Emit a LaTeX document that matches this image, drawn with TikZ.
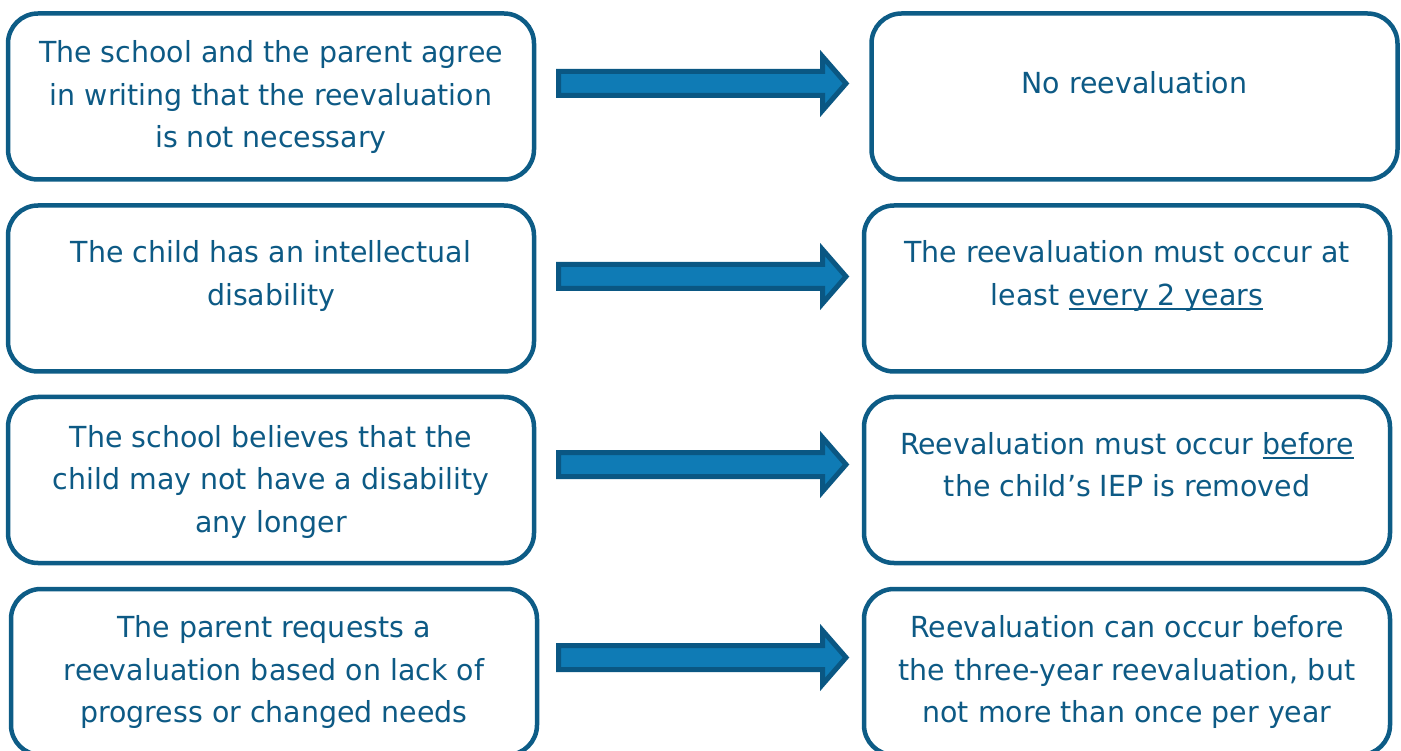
\documentclass[tikz,border=0pt]{standalone}
\usepackage{fontspec}
\setmainfont{DejaVu Sans}[FakeStretch=0.98]
\usetikzlibrary{calc}
\definecolor{edgeblue}{HTML}{0D5C86}
\definecolor{inkblue}{HTML}{0D5A85}
\definecolor{arrowfill}{HTML}{0F7BB5}
\definecolor{arrowedge}{HTML}{0A5783}
% underline that sits a little below the baseline
\newcommand{\undl}[1]{\setbox0=\hbox{#1}\rlap{\rule[-4.5pt]{\wd0}{1.9pt}}\box0}
% wide block arrow from a start point to a tip point
\newcommand{\blockarrow}[2]{%
  \draw[flowarrow] ($(#1)+(0,-12)$) -- ($(#2)+(-23.5,-12)$) -- ($(#2)+(-23.5,-27)$)
    -- (#2) -- ($(#2)+(-23.5,27)$) -- ($(#2)+(-23.5,12)$) -- ($(#1)+(0,12)$) -- cycle;}
\begin{document}
\begin{tikzpicture}[x=1pt,y=-1pt,
  card/.style={draw=edgeblue, line width=4.5pt, rounded corners=30pt, fill=white,
    minimum width=526pt, minimum height=166pt, inner sep=0pt},
  txt/.style={text=inkblue, align=center, inner sep=0pt,
    font=\fontsize{29}{42.5}\selectfont},
  flowarrow/.style={draw=arrowedge, fill=arrowfill, line width=5pt, line join=miter}]
\useasboundingbox (0,0) rectangle (1401,751);

% condition boxes (left) and outcome boxes (right)
\node[card] (L1) at (271,96.5) {};
\node[card] (L2) at (271,288.5) {};
\node[card] (L3) at (271,480) {};
\node[card] (L4) at (274,672) {};
\node[card] (R1) at (1134.5,96.5) {};
\node[card] (R2) at (1127,288.5) {};
\node[card] (R3) at (1127,480) {};
\node[card] (R4) at (1127,672) {};

% texts
\node[txt] (L1t) at (271,97.5) {The school and the parent agree\\in writing that the reevaluation\\is not necessary};
\node[txt] (R1t) at (1134.5,82.5) {No reevaluation};
\node[txt] (L2t) at (271,276) {The child has an intellectual\\disability};
\node[txt] (R2t) at (1127,276) {The reevaluation must occur at\\least \undl{every 2 years}};
\node[txt] (L3t) at (271,481.5) {The school believes that the\\child may not have a disability\\any longer};
\node[txt] (R3t) at (1127,464.5) {Reevaluation must occur \undl{before}\\the child’s IEP is removed};
\node[txt] (L4t) at (274,672) {The parent requests a\\reevaluation based on lack of\\progress or changed needs};
\node[txt] (R4t) at (1127,672) {Reevaluation can occur before\\the three-year reevaluation, but\\not more than once per year};

% arrow ends
\coordinate (a1s) at (558.5,83.5);  \coordinate (a1e) at (846,83.5);
\coordinate (a2s) at (558.5,276.5); \coordinate (a2e) at (846,276.5);
\coordinate (a3s) at (558.5,464.5); \coordinate (a3e) at (846,464.5);
\coordinate (a4s) at (558.5,657.5); \coordinate (a4e) at (846,657.5);
\blockarrow{a1s}{a1e}
\blockarrow{a2s}{a2e}
\blockarrow{a3s}{a3e}
\blockarrow{a4s}{a4e}
\end{tikzpicture}
\end{document}
